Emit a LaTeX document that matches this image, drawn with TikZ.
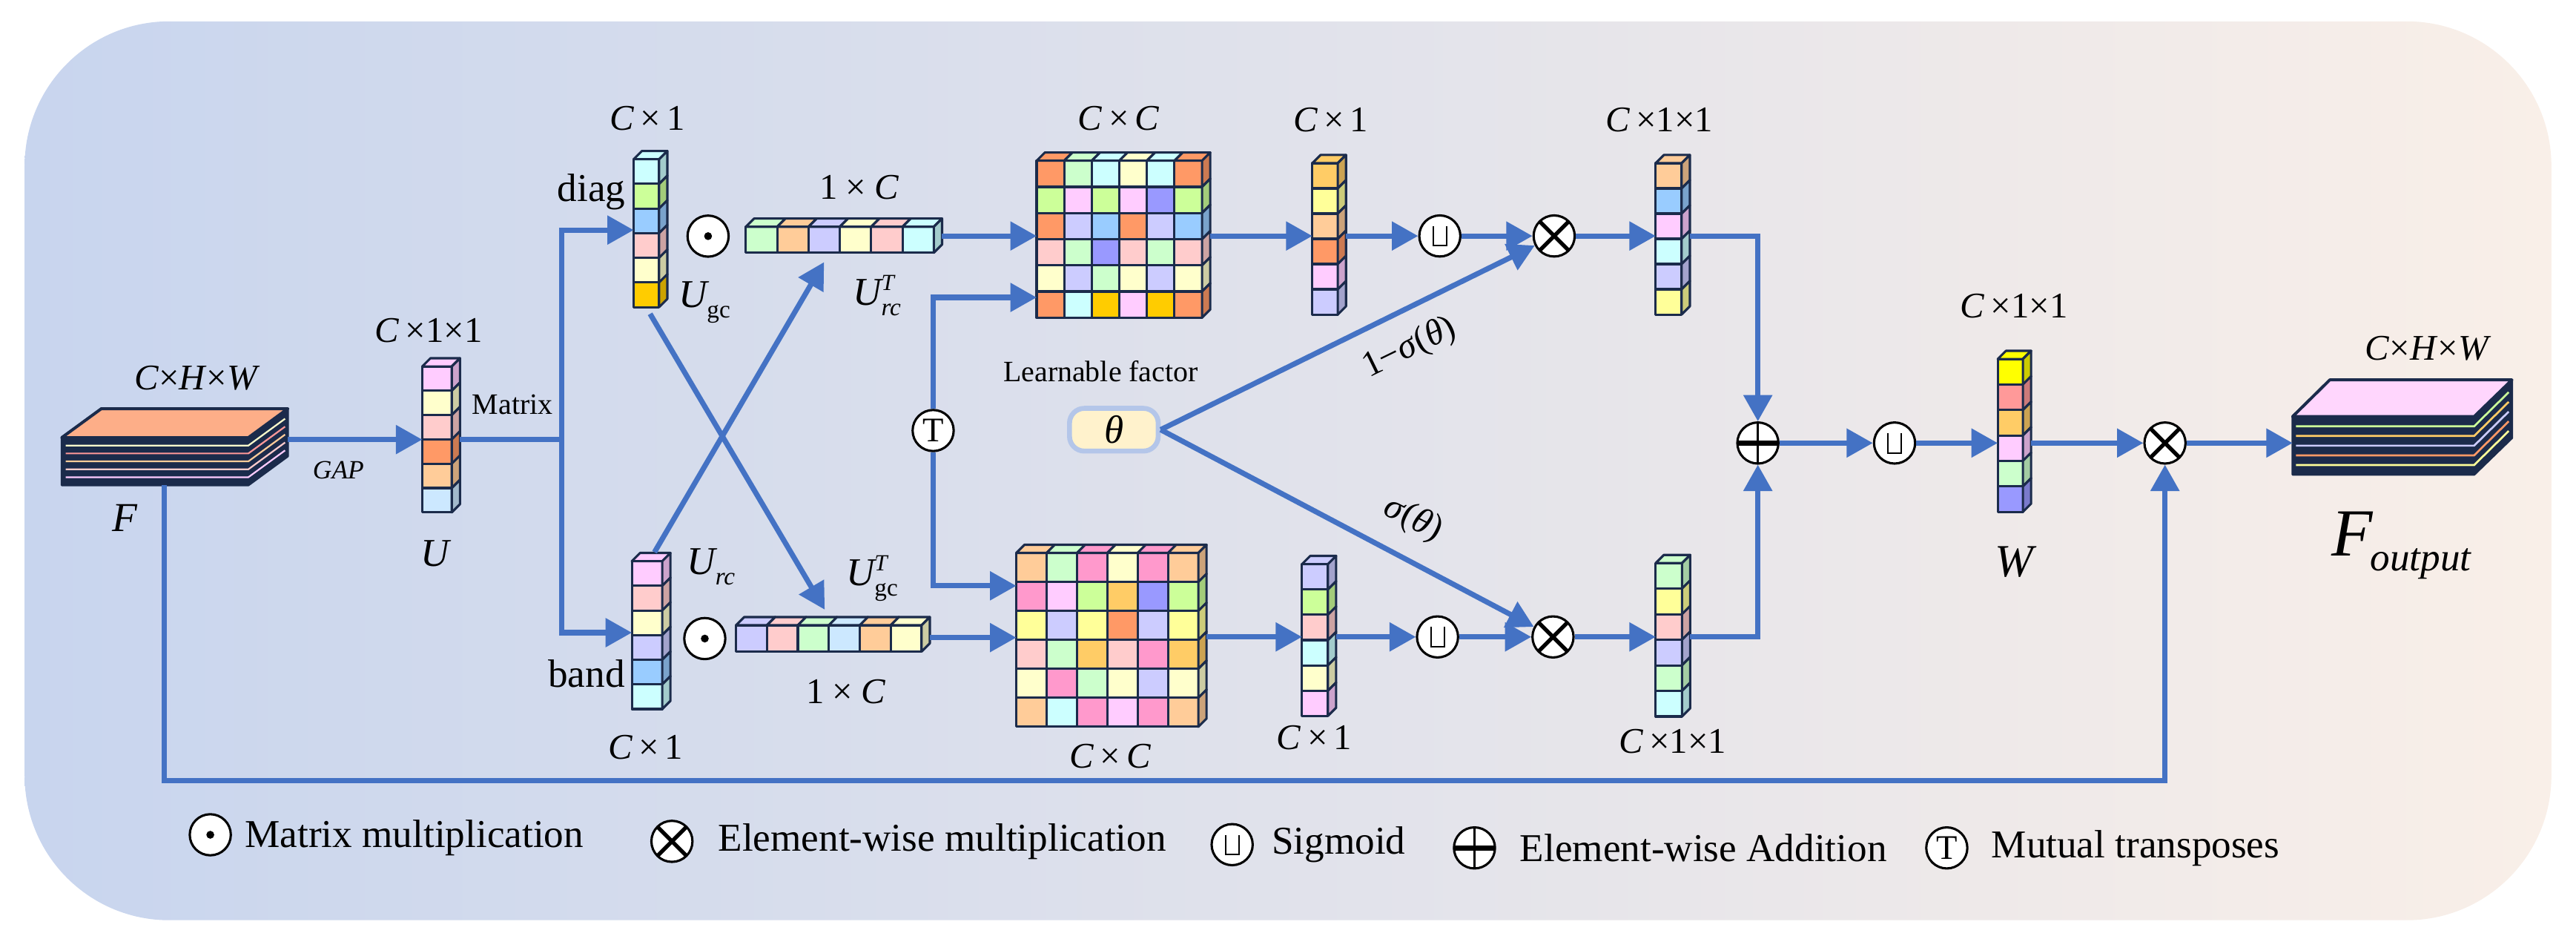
\documentclass[tikz,border=0pt]{standalone}
\usepackage{fontspec}
\setmainfont{Liberation Serif}
\usetikzlibrary{arrows.meta,calc}
\definecolor{navy}{HTML}{1B2B4B}
\definecolor{cblue}{HTML}{4472C4}
\definecolor{bgL}{HTML}{C8D5EE}
\definecolor{bgR}{HTML}{F9EFE8}
\definecolor{kcy}{HTML}{CCFFFF}
\definecolor{klg}{HTML}{CCFFCC}
\definecolor{klm}{HTML}{CCFF99}
\definecolor{klb}{HTML}{99CCFF}
\definecolor{ksb}{HTML}{CCE8FF}
\definecolor{klp}{HTML}{FFCCCC}
\definecolor{kly}{HTML}{FFFFCC}
\definecolor{kyl}{HTML}{FFFF99}
\definecolor{kyy}{HTML}{FFFF00}
\definecolor{kgo}{HTML}{FFCC00}
\definecolor{kgd}{HTML}{FFCC66}
\definecolor{kpe}{HTML}{FFCC99}
\definecolor{kor}{HTML}{FF9966}
\definecolor{kpk}{HTML}{FF99CC}
\definecolor{kpl}{HTML}{FFCCFF}
\definecolor{klv}{HTML}{CCCCFF}
\definecolor{kpw}{HTML}{9999FF}
\definecolor{ksa}{HTML}{FF9999}
\definecolor{kin}{HTML}{FDAE88}
\definecolor{kout}{HTML}{FFD6FD}
\definecolor{kcream}{HTML}{FFF2CC}
\definecolor{kthb}{HTML}{B4C6E9}

% x, y(top of front), cell w, cell h, ncols, depth, rows
\newcommand\cgrid[7]{%
  \foreach \rowc [count=\r from 0] in {#7} {%
    \foreach \cc [count=\k from 0] in \rowc {%
      \pgfmathsetmacro\xa{#1+\k*#3}%
      \pgfmathsetmacro\ya{#2+\r*#4}%
      \filldraw[fill=\cc, draw=navy, line width=1.4pt, line join=round] (\xa,\ya) rectangle ++(#3,#4);
      \ifnum\r=0
        \filldraw[fill=\cc, draw=navy, line width=1.4pt, line join=round] (\xa,\ya) -- ++(#6,-#6) -- ++(#3,0) -- ++(-#6,#6) -- cycle;
      \fi
      \ifnum\k=\numexpr#5-1\relax
        \filldraw[fill=\cc!80!black, draw=navy, line width=1.4pt, line join=round] (\xa+#3,\ya) -- ++(#6,-#6) -- ++(0,#4) -- ++(-#6,#6) -- cycle;
      \fi
    }%
  }%
}

\tikzset{
  conn/.style={draw=cblue, line width=3.2pt},
  arr/.style={conn, -{Triangle[length=16pt,width=17pt]}},
  circ/.style={circle, draw=black, fill=white, line width=1.4pt, minimum size=25pt, inner sep=0pt},
  odot/.style={circ, path picture={\fill[black] (path picture bounding box.center) circle (2.4pt);}},
  otimes/.style={circ, path picture={\draw[black, line width=2.4pt] (path picture bounding box.south west) -- (path picture bounding box.north east) (path picture bounding box.north west) -- (path picture bounding box.south east);}},
  oplus/.style={circ, path picture={\draw[black, line width=3pt] (path picture bounding box.west) -- (path picture bounding box.east); \draw[black, line width=1.2pt] (path picture bounding box.north) -- (path picture bounding box.south);}},
  osig/.style={circ, path picture={\draw[black, line width=0.9pt] ($(path picture bounding box.center)+(-4,-6)$) -- ++(0,12) -- ++(8,0) -- ++(0,-12);}},
  otee/.style={circ, font=\fontsize{21}{21}\selectfont},
  lab/.style={font=\fontsize{22}{26}\selectfont, inner sep=0pt},
  big/.style={font=\fontsize{24}{28}\selectfont, inner sep=0pt},
  leg/.style={font=\fontsize{24}{28}\selectfont, inner sep=0pt, anchor=west},
}
\newcommand\Ulab[2]{$\textit{U}_{\mbox{\fontsize{15}{15}\selectfont #1}}^{\mbox{\fontsize{14}{14}\selectfont\itshape #2}}$}

\begin{document}
\begin{tikzpicture}[x=1pt,y=-1pt]
\useasboundingbox (0,0) rectangle (1568,569.6);
\shade[left color=bgL, right color=bgR, rounded corners=88pt] (15,13) rectangle (1553,560);

% ---------- input stack F ----------
\filldraw[fill=navy, draw=navy, line width=1.4pt, line join=round] (37.6,266.3) -- (61.7,248.7) -- (175.2,248.7) -- (175.2,277.6) -- (151.2,295.2) -- (37.6,295.2) -- cycle;
\foreach \cl [count=\i] in {kly,ksa,kpe,klp,kpl} {\draw[\cl, line width=1pt] (40,{266.3+\i*4.82}) -- (151.2,{266.3+\i*4.82}) -- (173.5,{266.3+\i*4.82-16.3});}
\filldraw[fill=kin, draw=navy, line width=1.8pt, line join=round] (37.6,266.3) -- (61.7,248.7) -- (175.2,248.7) -- (151.2,266.3) -- cycle;
\coordinate (Fr) at (175.2,267.5);
\coordinate (Fb) at (100,295.2);

% ---------- output stack ----------
\filldraw[fill=navy, draw=navy, line width=1.4pt, line join=round] (1395.5,253.5) -- (1418.1,231.2) -- (1529,231.2) -- (1529,266.5) -- (1506,288.8) -- (1395.5,288.8) -- cycle;
\foreach \cl [count=\i] in {klm,kgd,klv,kor,kyl} {\draw[\cl, line width=1.2pt] (1397.5,{253.5+\i*5.9}) -- (1506,{253.5+\i*5.9}) -- (1527,{253.5+\i*5.9-20.7});}
\filldraw[fill=kout, draw=navy, line width=1.8pt, line join=round] (1395.5,253.5) -- (1418.1,231.2) -- (1529,231.2) -- (1506,253.5) -- cycle;
\coordinate (outW) at (1395.5,269.6);

% ---------- cubes ----------
\cgrid{257}{223}{18}{14.8}{1}{5}{{kpl},{kly},{klp},{kor},{kpe},{ksb}}
\cgrid{385.7}{96.9}{15.5}{15}{1}{5}{{kcy},{klm},{klb},{klp},{kly},{kgo}}
\cgrid{384.6}{341.5}{18.5}{15}{1}{5}{{kpl},{klp},{kly},{klv},{klb},{kcy}}
\cgrid{454}{138}{19.07}{15.8}{6}{5}{{klg,kpe,klv,kly,klp,kcy}}
\cgrid{448}{380.5}{18.83}{16}{6}{5}{{klv,klp,klg,ksb,kpe,kly}}
\cgrid{631}{97.8}{16.78}{15.92}{6}{5}{{kor,klg,kcy,kly,kcy,kor},{klm,kpl,klm,kpl,kpw,klm},{kor,klv,klb,kor,klv,klb},{klp,klg,kpw,klp,klg,klp},{kly,klv,klg,kly,klv,kly},{kor,kcy,kgo,kpl,kgo,kor}}
\cgrid{618.6}{336.5}{18.47}{17.63}{6}{5}{{kpe,klg,kpk,kly,kpk,kpe},{kpk,kpl,klm,kgd,kpw,klm},{kyl,klv,kyl,kor,klv,kyl},{klp,klg,kgd,klp,kpk,kgd},{kly,kpk,klg,kly,klv,kly},{kpe,kcy,kpk,kpl,kpk,kpe}}
\cgrid{798.8}{99.3}{15.5}{15.35}{1}{5}{{kgd},{kyl},{kpe},{kor},{kpl},{klv}}
\cgrid{1007.8}{99.3}{15.8}{15.35}{1}{5}{{kpe},{klb},{kpl},{kcy},{klv},{kyl}}
\cgrid{792.5}{343.3}{15.8}{15.4}{1}{5}{{klv},{klm},{klp},{kcy},{kly},{kpl}}
\cgrid{1007.8}{342.7}{16}{15.55}{1}{5}{{klg},{kyl},{klp},{klv},{klg},{kcy}}
\cgrid{1216}{218.5}{15.3}{15.5}{1}{5}{{kyy},{ksa},{kgd},{kpl},{klg},{kpw}}

% ---------- anchor coordinates ----------
\coordinate (Uw) at (257,267.5);
\coordinate (Ue) at (280,267.5);
\coordinate (J) at (342,267.5);
\coordinate (diagW) at (385.7,140);
\coordinate (bandW) at (384.6,385);
\coordinate (diagS) at (395.7,191);
\coordinate (botrowN) at (502,371);
\coordinate (bandN) at (398.4,336);
\coordinate (toprowS) at (501.6,159.5);
\coordinate (toprowE) at (573.4,143.6);
\coordinate (topmatW) at (631,143.6);
\coordinate (botrowE) at (566,388);
\coordinate (botmatW) at (618.6,388);
\coordinate (topmatW2) at (631,181);
\coordinate (botmatW2) at (618.6,356.5);
\coordinate (topmatE) at (736.7,143.6);
\coordinate (topC1W) at (798.8,143.6);
\coordinate (topC1E) at (819.3,143.6);
\coordinate (topC11W) at (1007.8,143.6);
\coordinate (topC11E) at (1028.6,143.6);
\coordinate (Rtop) at (1070,143.6);
\coordinate (botmatE) at (734.4,387.6);
\coordinate (botC1W) at (792.5,387.6);
\coordinate (botC1E) at (813.3,387.6);
\coordinate (botC11W) at (1007.8,387.6);
\coordinate (botC11E) at (1028.8,387.6);
\coordinate (Rbot) at (1070,387.6);
\coordinate (WW) at (1216,269.6);
\coordinate (WE) at (1236.3,269.6);
\coordinate (Fc1) at (100,475);
\coordinate (Fc2) at (1317.8,475);

% ---------- operator nodes ----------
\node[odot] (dot1) at (431,143.7) {};
\node[odot] (dot2) at (429,388.6) {};
\node[otee] (tr) at (568,262) {T};
\node[osig] (sig1) at (876.4,143.6) {};
\node[otimes] (ox1) at (946,143.6) {};
\node[osig] (sig2) at (875,387.6) {};
\node[otimes] (ox2) at (945.3,387.6) {};
\node[oplus] (plus) at (1070,269.6) {};
\node[osig] (sig3) at (1153.2,269.6) {};
\node[otimes] (ox3) at (1317.8,269.6) {};
\node[draw=kthb, fill=kcream, line width=3pt, rounded corners=9pt, minimum width=54pt, minimum height=26pt, inner sep=0pt, font=\fontsize{24}{24}\selectfont] (theta) at (678,261.5) {\textit{θ}};

% ---------- connectors ----------
\draw[arr] (Fr) -- (Uw);
\draw[conn] (Ue) -- (J);
\draw[arr] (J) |- (diagW);
\draw[arr] (J) |- (bandW);
\draw[arr] (diagS) -- (botrowN);
\draw[arr] (bandN) -- (toprowS);
\draw[arr] (toprowE) -- (topmatW);
\draw[arr] (botrowE) -- (botmatW);
\draw[arr] (tr) |- (topmatW2);
\draw[arr] (tr) |- (botmatW2);
\draw[arr] (topmatE) -- (topC1W);
\draw[arr] (topC1E) -- (sig1);
\draw[arr] (sig1) -- (ox1);
\draw[arr] (ox1) -- (topC11W);
\draw[arr] (botmatE) -- (botC1W);
\draw[arr] (botC1E) -- (sig2);
\draw[arr] (sig2) -- (ox2);
\draw[arr] (ox2) -- (botC11W);
\draw[arr] (topC11E) -- (Rtop) -- (plus);
\draw[arr] (botC11E) -- (Rbot) -- (plus);
\draw[arr] (plus) -- (sig3);
\draw[arr] (sig3) -- (WW);
\draw[arr] (WE) -- (ox3);
\draw[arr] (ox3) -- (outW);
\draw[arr] (Fb) -- (Fc1) -- (Fc2) -- (ox3);
\draw[arr] (theta.east) -- (ox1);
\draw[arr] (theta.east) -- (ox2);

% ---------- labels ----------
\node[lab] (lCHW) at (120,230) {\textit{C}×\textit{H}×\textit{W}};
\node[font=\fontsize{16}{18}\selectfont\itshape, inner sep=0pt] (lGAP) at (206,286) {GAP};
\node[font=\fontsize{25}{28}\selectfont\itshape, inner sep=0pt] (lF) at (76,315) {F};
\node[lab] (lU11) at (261,201) {\textit{C}\,×1×1};
\node[font=\fontsize{18}{20}\selectfont, inner sep=0pt] (lMat) at (312,246) {Matrix};
\node[big, font=\fontsize{24}{28}\selectfont\itshape] (lU) at (265,337) {U};
\node[lab] (lD1) at (394,72) {\textit{C}\,×\,1};
\node[big] (ldiag) at (360,117) {diag};
\node[big] (lband) at (357,410) {band};
\node[lab] (lB1) at (393,455) {\textit{C}\,×\,1};
\node[big] (lUgc) at (429,184) {\Ulab{gc}{}};
\node[big] (lUrc) at (433,345) {\Ulab{\itshape rc}{}};
\node[lab] (l1C) at (523,114) {1\hspace{5pt}×\hspace{5pt}\textit{C}};
\node[lab] (l1Cb) at (515,421) {1\hspace{5pt}×\hspace{5pt}\textit{C}};
\node[big] (lUrcT) at (534,180) {\Ulab{\itshape rc}{T}};
\node[big] (lUgcT) at (531,352) {\Ulab{gc}{T}};
\node[lab] (lCC1) at (681,72) {\textit{C}\,×\,\textit{C}};
\node[lab] (lCC2) at (676,460) {\textit{C}\,×\,\textit{C}};
\node[lab] (lC1t) at (810,73) {\textit{C}\,×\,1};
\node[lab] (lC1b) at (800,449) {\textit{C}\,×\,1};
\node[lab] (lC11t) at (1010,73) {\textit{C}\,×1×1};
\node[lab] (lC11b) at (1018,451) {\textit{C}\,×1×1};
\node[font=\fontsize{18}{20}\selectfont, inner sep=0pt] (lLF) at (670,226) {Learnable factor};
\node[lab, rotate=26] (ls1) at (858,212) {1−\textit{σ}(\textit{θ})};
\node[lab, rotate=-27] (ls2) at (860,316) {\textit{σ}(\textit{θ})};
\node[lab] (lC11W) at (1226,186) {\textit{C}\,×1×1};
\node[font=\fontsize{28}{30}\selectfont\itshape, inner sep=0pt] (lW) at (1226,342) {W};
\node[lab] (lCHWo) at (1478,212) {\textit{C}×\textit{H}×\textit{W}};
\node[inner sep=0pt] (lFo) at (1462,332) {\fontsize{41}{44}\selectfont\textit{F}\kern-2pt\raisebox{-9pt}{\fontsize{24}{26}\selectfont\textit{output}}};

% ---------- legend ----------
\node[odot] (lg1) at (128,508) {};
\node[leg] (lt1) at (149,510) {Matrix multiplication};
\node[otimes] (lg2) at (409,512) {};
\node[leg] (lt2) at (437,512) {Element-wise multiplication};
\node[osig] (lg3) at (750,514) {};
\node[leg] (lt3) at (774,514) {Sigmoid};
\node[oplus] (lg4) at (897.5,516) {};
\node[leg] (lt4) at (925,516) {Element-wise Addition};
\node[otee] (lg5) at (1185,516) {T};
\node[leg] (lt5) at (1212,516) {Mutual transposes};
\end{tikzpicture}
\end{document}
